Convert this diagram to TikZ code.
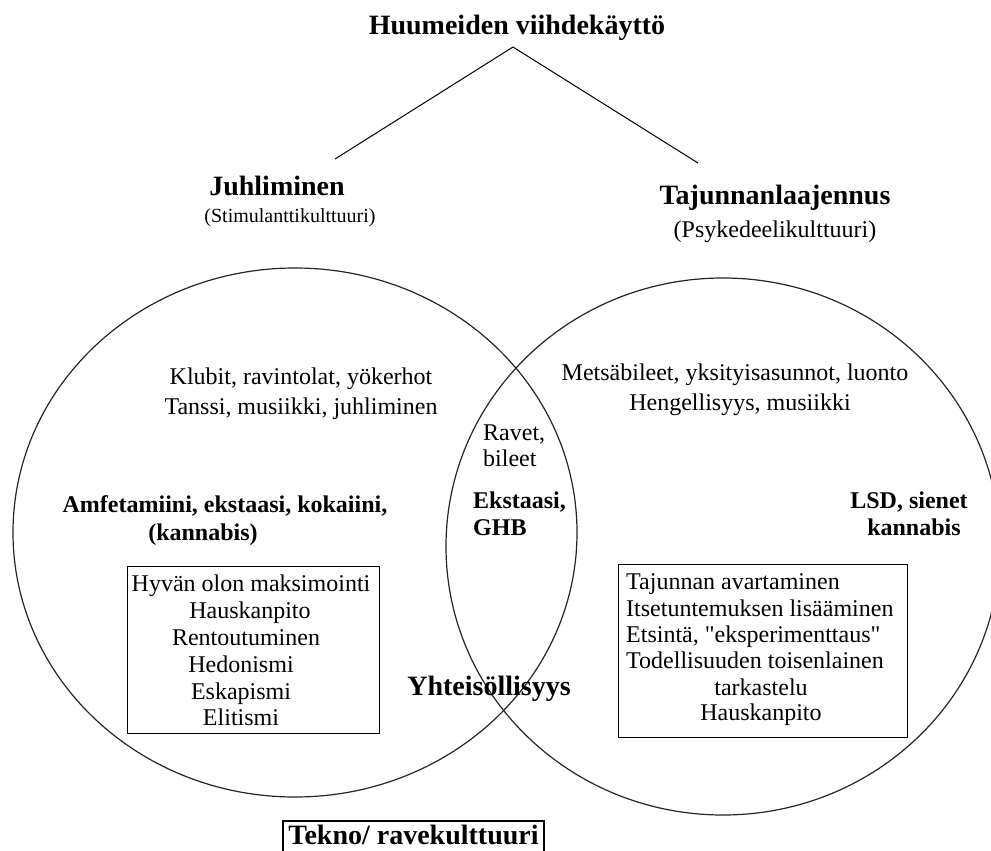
\documentclass[tikz,border=0pt]{standalone}
\usepackage{fontspec}
\setmainfont{Liberation Serif}
\usetikzlibrary{shapes.geometric}
\begin{document}
\begin{tikzpicture}[x=1pt,y=-1pt,
  txt/.style={inner sep=0pt, anchor=base, font=\fontsize{24}{27}\selectfont},
  btxt/.style={inner sep=0pt, anchor=base, font=\fontsize{24}{27}\selectfont\bfseries},
  head/.style={inner sep=0pt, anchor=base, font=\fontsize{28}{32}\selectfont\bfseries},
  subt/.style={inner sep=0pt, anchor=base},
  frame/.style={draw, line width=1.4pt, inner sep=0pt},
  venn/.style={draw=black!85, line width=1.2pt, ellipse, inner sep=0pt},
  link/.style={draw, line width=1pt}]
\useasboundingbox (0,0) rectangle (991,851);
\clip (0,0) rectangle (991,851);
\fill[white] (0,0) rectangle (991,851);

% title and branches
\node[head] (title) at (517,35) {Huumeiden viihdekäyttö};
\coordinate (apex) at (513,47);
\coordinate (jend) at (335,159);
\coordinate (tend) at (698,163);
\draw[link] (apex) -- (jend);
\draw[link] (apex) -- (tend);

\node[head] (juhl) at (277,195) {Juhliminen};
\node[subt, font=\fontsize{20}{24}\selectfont] (stim) at (290,222) {(Stimulanttikulttuuri)};
\node[head] (taju) at (775,204) {Tajunnanlaajennus};
\node[subt, font=\fontsize{24}{27}\selectfont] (psyk) at (775,237) {(Psykedeelikulttuuri)};

% Venn ellipses
\node[venn, minimum width=564pt, minimum height=529pt] (left) at (295,532.5) {};
\node[venn, minimum width=554pt, minimum height=537pt] (right) at (723,546.5) {};

% left set
\node[txt] (klubit) at (301,384) {Klubit, ravintolat, yökerhot};
\node[txt] (tanssi) at (301,414) {Tanssi, musiikki, juhliminen};
\node[btxt] (amf) at (225,512) {Amfetamiini, ekstaasi, kokaiini,};
\node[btxt] (kan1) at (203,540) {(kannabis)};
\node[frame, anchor=north west, minimum width=252pt, minimum height=167pt] (boxL) at (127,566) {};
\node[txt] (l1) at (251,591) {Hyvän olon maksimointi};
\node[txt] (l2) at (250,618) {Hauskanpito};
\node[txt] (l3) at (246,645) {Rentoutuminen};
\node[txt] (l4) at (241,672) {Hedonismi};
\node[txt] (l5) at (241,699) {Eskapismi};
\node[txt] (l6) at (241,725) {Elitismi};

% intersection
\node[txt, anchor=base west] (ravet) at (483,440) {Ravet,};
\node[txt, anchor=base west] (bileet) at (483,466) {bileet};
\node[btxt, anchor=base west] (ekst) at (473,508) {Ekstaasi,};
\node[btxt, anchor=base west] (ghb) at (473,535) {GHB};
\node[head] (yht) at (489,695) {Yhteisöllisyys};

% right set
\node[txt] (mets) at (735,380) {Metsäbileet, yksityisasunnot, luonto};
\node[txt] (heng) at (740,410) {Hengellisyys, musiikki};
\node[btxt] (lsd) at (909,508) {LSD, sienet};
\node[btxt] (kan2) at (914,535) {kannabis};
\node[frame, anchor=north west, minimum width=289pt, minimum height=173pt] (boxR) at (618,564) {};
\node[txt, anchor=base west] (r1) at (626,589) {Tajunnan avartaminen};
\node[txt, anchor=base west] (r2) at (626,616) {Itsetuntemuksen lisääminen};
\node[txt, anchor=base west] (r3) at (626,642) {Etsintä, \textquotedbl eksperimenttaus\textquotedbl};
\node[txt, anchor=base west] (r4) at (626,668) {Todellisuuden toisenlainen};
\node[txt] (r5) at (761,695) {tarkastelu};
\node[txt] (r6) at (761,720) {Hauskanpito};

% bottom label (its frame runs past the lower edge of the picture)
\node[head] (tekno) at (413.5,844) {Tekno/ ravekulttuuri};
\draw[line width=1.4pt] (283,856) |- (544,821) -- (544,856);
\end{tikzpicture}
\end{document}
